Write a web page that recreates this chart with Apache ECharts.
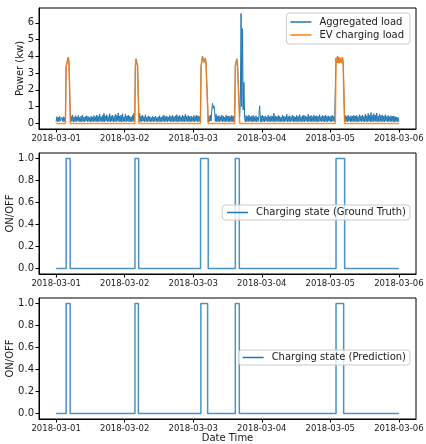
<!DOCTYPE html>
<html>
<head>
<meta charset="utf-8">
<script src="https://cdn.jsdelivr.net/npm/echarts@6/dist/echarts.min.js"></script>
<style>
html, body { margin: 0; padding: 0; background: #fff; }
#main { width: 426px; height: 444px; }
</style>
</head>
<body>
<div id="main"></div>
<script>
// tick labels
var dayTicks = ['2018-03-01', '2018-03-02', '2018-03-03', '2018-03-04', '2018-03-05', '2018-03-06'];
var powerTicks = [0, 1, 2, 3, 4, 5, 6];
var stateTicks = [0, 0.2, 0.4, 0.6, 0.8, 1.0];

// aggregated load (kW), one value every 15 min from 00:00
var aggDay1 = [0.1,0.4,0.12,0.38,0.1,0.42,0.15,0.1,0.36,0.12,0.4,0.1,0.35,0.1,
  3.4,3.4,3.45,3.95,3.6,3.5,
  0.1,0.45,0.12,0.5,0.1,0.38,0.12,0.46,0.1,0.4,
  0.15,0.48,0.1,0.36,0.12,0.44,0.1,0.5,0.12,0.38,
  0.1,0.42,0.15,0.46,0.1,0.4,0.12,0.35,0.1,0.44,
  0.12,0.38,0.1,0.47,0.13,0.4,0.1,0.5,0.12,0.42,
  0.1,0.55,0.14,0.4,0.1,0.48,0.12,0.6,0.1,0.45,
  0.15,0.52,0.1,0.4,0.12,0.58,0.1,0.46,0.13,0.5,
  0.1,0.42,0.12,0.55,0.1,0.48,0.15,0.62,0.1,0.45,
  0.12,0.5,0.1,0.58,0.12,0.4];
var aggDay2 = [0.12,0.55,0.1,0.45,0.14,0.5,0.1,0.42,0.12,0.4,0.1,0.48,0.13,0.62,0.1,
  3.4,3.85,3.6,3.45,3.4,
  0.1,0.6,0.12,0.45,0.1,0.5,0.14,0.4,0.1,0.52,
  0.12,0.38,0.1,0.45,0.13,0.4,0.1,0.36,0.12,0.42,
  0.1,0.38,0.14,0.44,0.1,0.35,0.12,0.4,0.1,0.46,
  0.12,0.38,0.1,0.42,0.13,0.5,0.1,0.4,0.12,0.45,
  0.1,0.38,0.14,0.48,0.1,0.42,0.12,0.5,0.1,0.4,
  0.13,0.46,0.1,0.52,0.12,0.42,0.1,0.48,0.14,0.4,
  0.1,0.5,0.12,0.44,0.1,0.55,0.13,0.42,0.1,0.48,
  0.12,0.4,0.1,0.45,0.12,0.38];
var aggDay3 = [0.12,0.48,0.1,0.42,0.14,0.5,0.1,0.45,0.12,0.4,0.1,
  3.4,3.45,4.0,3.8,3.65,3.7,3.9,3.5,3.4,3.4,
  0.1,0.45,0.12,0.5,0.15,
  0.8,1.2,0.9,1.05,0.7,
  0.12,0.55,0.1,0.42,0.12,0.48,0.1,0.4,0.14,0.5,
  0.1,0.45,0.12,0.38,0.1,0.5,0.13,0.42,0.1,0.46,
  0.12,0.4,0.1,0.48,0.12,0.44,0.1,0.38,
  3.4,3.45,3.85,3.5,3.4,3.4,
  0.4,1.3,6.55,1.0,5.65,0.8,2.45,0.3,
  0.1,0.48,0.12,0.42,0.1,0.5,0.14,0.4,0.1,0.45,
  0.12,0.48,0.1,0.4,0.13,0.46,0.1,0.38,0.12,0.44,
  1.05,0.1,0.45];
var aggDay4 = [0.1,0.5,0.12,0.42,0.1,0.45,0.14,0.38,0.1,0.5,
  0.12,0.4,0.1,0.46,0.13,0.42,0.1,0.6,0.12,0.45,
  0.1,0.4,0.14,0.48,0.1,0.42,0.12,0.38,0.1,0.5,
  0.12,0.44,0.1,0.4,0.13,0.55,0.1,0.42,0.12,0.46,
  0.1,0.4,0.14,0.5,0.1,0.44,0.12,0.38,0.1,0.48,
  0.12,0.42,0.1,0.52,0.13,0.4,0.1,0.46,0.12,0.5,
  0.1,0.44,0.14,0.4,0.1,0.55,0.12,0.42,0.1,0.48,
  0.12,0.4,0.1,0.5,0.13,0.44,0.1,0.46,0.12,0.42,
  0.1,0.52,0.14,0.4,0.1,0.48,0.12,0.44,0.1,0.5,
  0.12,0.42,0.1,0.46,0.13,0.4];
var aggDay5 = [0.12,0.45,0.1,0.5,0.14,0.42,0.1,0.1,
  3.9,3.6,4.0,3.6,3.95,3.6,3.9,4.0,3.6,3.95,3.6,3.5,
  0.1,0.48,0.12,0.42,0.1,0.5,0.14,0.4,0.1,0.46,
  0.12,0.42,0.1,0.5,0.13,0.44,0.1,0.48,0.12,0.4,
  0.1,0.52,0.14,0.45,0.1,0.5,0.12,0.42,0.1,0.55,
  0.12,0.46,0.1,0.6,0.13,0.5,0.1,0.65,0.12,0.48,
  0.1,0.58,0.14,0.5,0.1,0.62,0.12,0.45,0.1,0.55,
  0.13,0.48,0.1,0.5,0.12,0.44,0.1,0.52,0.14,0.42,
  0.1,0.48,0.12,0.4,0.1,0.46,0.13,0.42,0.1,0.45,
  0.12,0.4,0.1,0.38,0.12,0.35];
var aggLast = 0.1; // 2018-03-06 00:00

// EV charging load: zero outside these windows (15 min steps)
var evWindows = [
  { start: '2018-03-01 03:30', values: [3.4,3.4,3.45,3.95,3.6,3.5] },
  { start: '2018-03-02 03:45', values: [3.4,3.85,3.6,3.45,3.4] },
  { start: '2018-03-03 02:45', values: [3.4,3.45,4.0,3.8,3.65,3.7,3.9,3.5,3.4,3.4] },
  { start: '2018-03-03 14:45', values: [3.4,3.45,3.85,3.5,3.4,3.4] },
  { start: '2018-03-05 02:00', values: [3.9,3.6,4.0,3.6,3.95,3.6,3.9,4.0,3.6,3.95,3.6,3.5] }
];

// charging state ON intervals
var truthOn = [
  ['2018-03-01 03:30', '2018-03-01 04:55'],
  ['2018-03-02 03:36', '2018-03-02 04:54'],
  ['2018-03-03 02:34', '2018-03-03 05:15'],
  ['2018-03-03 14:44', '2018-03-03 16:08'],
  ['2018-03-05 02:00', '2018-03-05 05:01']
];
var predOn = [
  ['2018-03-01 03:30', '2018-03-01 04:55'],
  ['2018-03-02 03:36', '2018-03-02 04:48'],
  ['2018-03-03 02:41', '2018-03-03 05:02'],
  ['2018-03-03 14:44', '2018-03-03 16:08'],
  ['2018-03-05 02:00', '2018-03-05 04:40']
];

function toTime(s) {
  var p = s.split(/[- :]/);
  return new Date(+p[0], +p[1] - 1, +p[2], +(p[3] || 0), +(p[4] || 0)).getTime();
}
var STEP = 15 * 60 * 1000;
var t0 = toTime('2018-03-01 00:00');
var tEnd = toTime('2018-03-06 00:00');
var pad = 6 * 3600 * 1000;

var aggData = aggDay1.concat(aggDay2, aggDay3, aggDay4, aggDay5).map(function (v, i) {
  return [t0 + i * STEP, v];
});
aggData.push([tEnd, aggLast]);

var evData = [[t0, 0]];
evWindows.forEach(function (w) {
  var s = toTime(w.start);
  evData.push([s - STEP, 0]);
  w.values.forEach(function (v, i) { evData.push([s + i * STEP, v]); });
  evData.push([s + w.values.length * STEP, 0]);
});
evData.push([tEnd, 0]);

function stateData(list) {
  var d = [[t0, 0]];
  list.forEach(function (w) {
    var a = toTime(w[0]), b = toTime(w[1]);
    d.push([a, 0], [a, 1], [b, 1], [b, 0]);
  });
  d.push([tEnd, 0]);
  return d;
}

var FONT = 'DejaVu Sans';
var TXT = '#1a1a1a';
var tickTimes = dayTicks.map(function (s) { return toTime(s); });

function xAxisFor(idx, name) {
  return {
    type: 'value', gridIndex: idx, min: t0 - pad, max: tEnd + pad,
    name: name || '', nameLocation: 'middle', nameGap: 14, nameMoveOverlap: false,
    nameTextStyle: { fontFamily: FONT, fontSize: 10, color: TXT },
    axisLine: { onZero: false, lineStyle: { color: '#000', width: 1 } },
    axisTick: { show: true, length: 3.5, customValues: tickTimes, lineStyle: { color: '#000' } },
    axisLabel: {
      customValues: tickTimes, margin: 5, fontFamily: FONT, fontSize: 8.5, color: TXT,
      formatter: function (v) { return echarts.time.format(v, '{yyyy}-{MM}-{dd}', false); }
    },
    splitLine: { show: false }
  };
}
function yAxisFor(idx, name, min, max, ticks, gap, fmt) {
  return {
    type: 'value', gridIndex: idx, min: min, max: max,
    name: name, nameLocation: 'middle', nameGap: gap, nameRotate: 90, nameMoveOverlap: false,
    nameTextStyle: { fontFamily: FONT, fontSize: 10, color: TXT },
    axisLine: { show: true, onZero: false, lineStyle: { color: '#000', width: 1 } },
    axisTick: { show: true, length: 3.5, customValues: ticks, lineStyle: { color: '#000' } },
    axisLabel: { customValues: ticks, margin: 5, fontFamily: FONT, fontSize: 10, color: TXT, formatter: fmt },
    splitLine: { show: false }
  };
}
function legendFor(names, top, pads) {
  return {
    data: names, orient: 'vertical', right: 16, top: top,
    icon: 'rect', padding: pads, itemGap: 3, itemWidth: 21, itemHeight: 1.5,
    backgroundColor: 'rgba(255,255,255,0.8)', borderColor: '#cccccc', borderWidth: 1, borderRadius: 3,
    textStyle: { fontFamily: FONT, fontSize: 10, color: TXT, padding: [0, 0, 0, 3] }
  };
}
function gridAt(top) {
  return { left: 39, top: top, width: 377, height: 121, show: true, borderColor: '#000', borderWidth: 1,
    containLabel: false, outerBoundsMode: 'none' };
}

var chart = echarts.init(document.getElementById('main'));
chart.setOption({
  animation: false,
  backgroundColor: '#fff',
  grid: [gridAt(8), gridAt(153), gridAt(298)],
  xAxis: [xAxisFor(0), xAxisFor(1), xAxisFor(2, 'Date Time')],
  yAxis: [
    yAxisFor(0, 'Power (kw)', -0.33, 6.88, powerTicks, 14, function (v) { return String(v); }),
    yAxisFor(1, 'ON/OFF', -0.05, 1.05, stateTicks, 24, function (v) { return v.toFixed(1); }),
    yAxisFor(2, 'ON/OFF', -0.05, 1.05, stateTicks, 24, function (v) { return v.toFixed(1); })
  ],
  legend: [
    legendFor(['Aggregated load', 'EV charging load'], 13, [4, 6, 4, 4]),
    legendFor(['Charging state (Ground Truth)'], 205, [2.5, 4, 2.5, 4.7]),
    legendFor(['Charging state (Prediction)'], 350, [2.5, 4, 2.5, 4])
  ],
  series: [
    { name: 'Aggregated load', type: 'line', xAxisIndex: 0, yAxisIndex: 0, data: aggData,
      symbol: 'none', color: '#1f77b4', lineStyle: { width: 1, color: '#1f77b4' } },
    { name: 'EV charging load', type: 'line', xAxisIndex: 0, yAxisIndex: 0, data: evData,
      symbol: 'none', color: '#ff7f0e', lineStyle: { width: 1.5, color: '#ff7f0e', opacity: 0.85 } },
    { name: 'Charging state (Ground Truth)', type: 'line', xAxisIndex: 1, yAxisIndex: 1, data: stateData(truthOn),
      symbol: 'none', color: '#1f77b4', lineStyle: { width: 1.5, color: '#1f77b4', opacity: 0.8 } },
    { name: 'Charging state (Prediction)', type: 'line', xAxisIndex: 2, yAxisIndex: 2, data: stateData(predOn),
      symbol: 'none', color: '#1f77b4', lineStyle: { width: 1.5, color: '#1f77b4', opacity: 0.8 } }
  ]
});
</script>
</body>
</html>
